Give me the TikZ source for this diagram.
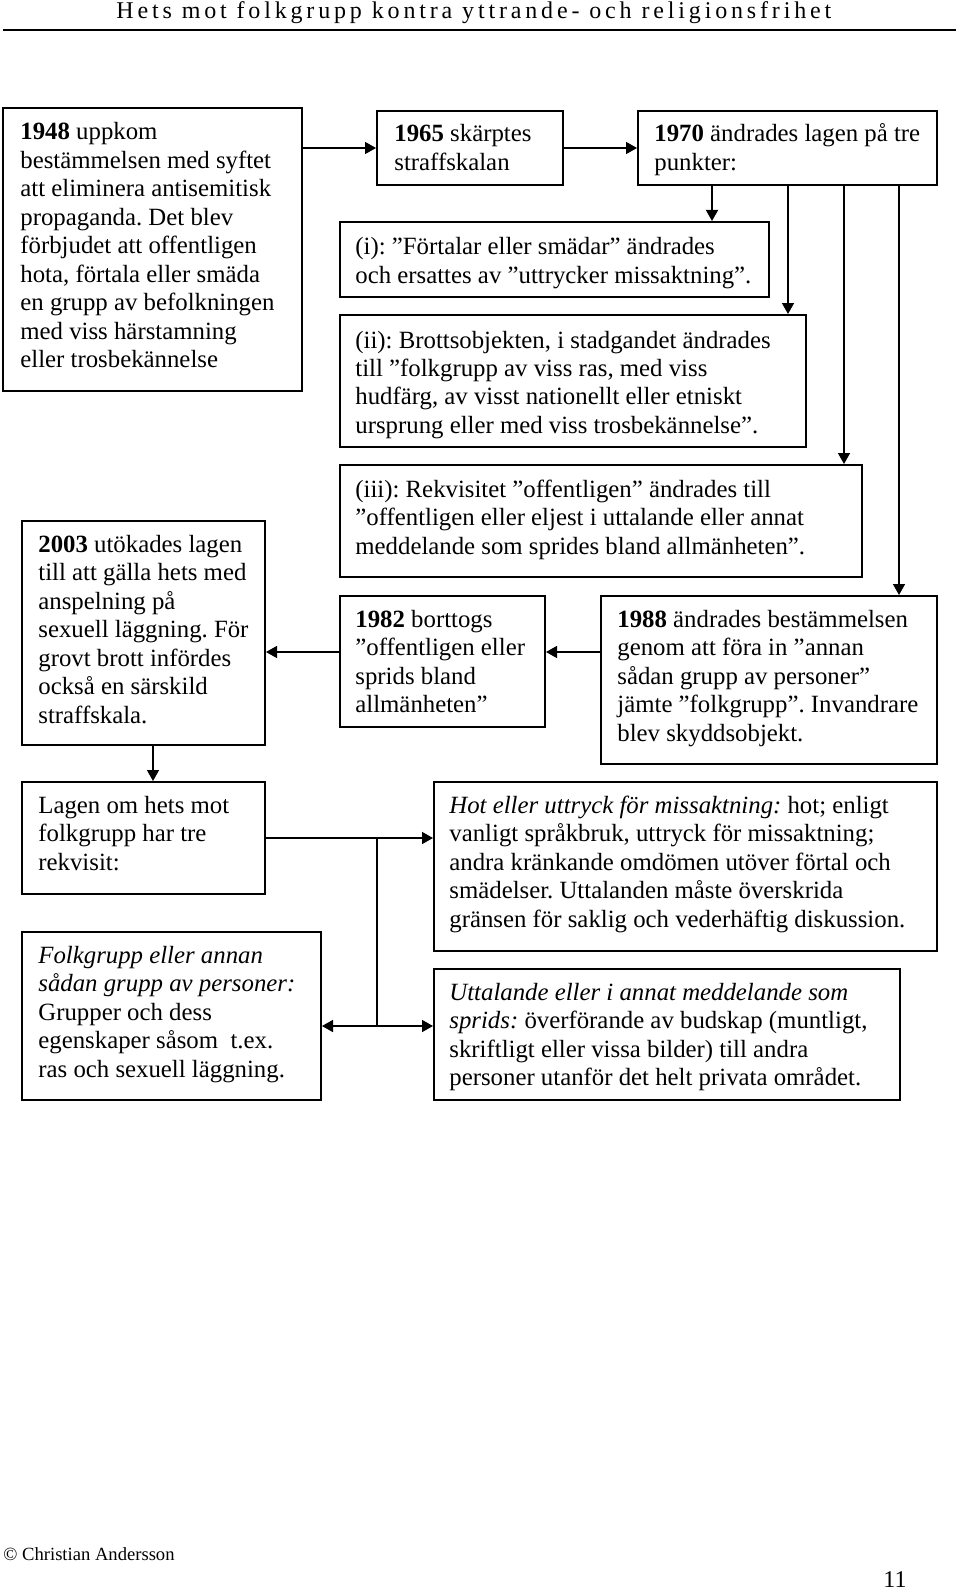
\documentclass[tikz,border=0pt]{standalone}
\usepackage{fontspec}
\setmainfont{Liberation Serif}
\usetikzlibrary{arrows.meta,fit}
\newcommand\mylines[1]{\begin{tabular}[t]{@{}l@{}}#1\end{tabular}}
\tikzset{
  boxx/.style={draw, line width=1pt, inner sep=0pt},
  txt/.style={anchor=base west, inner sep=0pt, font=\fontsize{12.4}{14.25}\selectfont},
  arr/.style={line width=0.75pt, -{Triangle[length=5.5pt,width=6pt]}},
  ln/.style={line width=0.75pt}
}
\frenchspacing
\begin{document}
\frenchspacing
\begin{tikzpicture}[x=0.5pt,y=-0.5pt]
\useasboundingbox (0,0) rectangle (960,1589);
% header
\node[anchor=base west, inner sep=0pt, font=\fontsize{12}{14}\selectfont\addfontfeature{LetterSpace=16}] (title) at (116,19) {Hets mot folkgrupp kontra yttrande- och religionsfrihet};
\coordinate (hl) at (3,30); \coordinate (hr) at (956,30);
\draw[line width=1pt] (hl) -- (hr);
% boxes
\node[boxx, fit={(3,108)(302,391)}] (b1948) {};
\node[boxx, fit={(377,111)(563,185)}] (b1965) {};
\node[boxx, fit={(638,111)(937,185)}] (b1970) {};
\node[boxx, fit={(340,222)(769,297)}] (bi) {};
\node[boxx, fit={(340,315)(806,447)}] (bii) {};
\node[boxx, fit={(340,465)(862,577)}] (biii) {};
\node[boxx, fit={(22,521)(265,745)}] (b2003) {};
\node[boxx, fit={(340,596)(545,727)}] (b1982) {};
\node[boxx, fit={(601,596)(937,764)}] (b1988) {};
\node[boxx, fit={(22,782)(265,894)}] (blag) {};
\node[boxx, fit={(434,782)(937,951)}] (bhot) {};
\node[boxx, fit={(22,932)(321,1100)}] (bfolk) {};
\node[boxx, fit={(434,969)(900,1100)}] (butt) {};
% texts
\node[txt] (t1948) at (20,140) {\mylines{\textbf{1948} uppkom\\bestämmelsen med syftet\\att eliminera antisemitisk\\propaganda. Det blev\\förbjudet att offentligen\\hota, förtala eller smäda\\en grupp av befolkningen\\med viss härstamning\\eller trosbekännelse}};
\node[txt] (t1965) at (394,142) {\mylines{\textbf{1965} skärptes\\straffskalan}};
\node[txt] (t1970) at (654,142) {\mylines{\textbf{1970} ändrades lagen på tre\\punkter:}};
\node[txt] (ti) at (355,255) {\mylines{(i): ”Förtalar eller smädar” ändrades\\och ersattes av ”uttrycker missaktning”.}};
\node[txt] (tii) at (355,348) {\mylines{(ii): Brottsobjekten, i stadgandet ändrades\\till ”folkgrupp av viss ras, med viss\\hudfärg, av visst nationellt eller etniskt\\ursprung eller med viss trosbekännelse”.}};
\node[txt] (tiii) at (355,497) {\mylines{(iii): Rekvisitet ”offentligen” ändrades till\\”offentligen eller eljest i uttalande eller annat\\meddelande som sprides bland allmänheten”.}};
\node[txt] (t2003) at (38,552) {\mylines{\textbf{2003} utökades lagen\\till att gälla hets med\\anspelning på\\sexuell läggning. För\\grovt brott infördes\\också en särskild\\straffskala.}};
\node[txt] (t1982) at (355,627) {\mylines{\textbf{1982} borttogs\\”offentligen eller\\sprids bland\\allmänheten”}};
\node[txt] (t1988) at (617,627) {\mylines{\textbf{1988} ändrades bestämmelsen\\genom att föra in ”annan\\sådan grupp av personer”\\jämte ”folkgrupp”. Invandrare\\blev skyddsobjekt.}};
\node[txt] (tlag) at (38,813) {\mylines{Lagen om hets mot\\folkgrupp har tre\\rekvisit:}};
\node[txt] (thot) at (449,813) {\mylines{\textit{Hot eller uttryck för missaktning:} hot; enligt\\vanligt språkbruk, uttryck för missaktning;\\andra kränkande omdömen utöver förtal och\\smädelser. Uttalanden måste överskrida\\gränsen för saklig och vederhäftig diskussion.}};
\node[txt] (tfolk) at (38,963) {\mylines{\textit{Folkgrupp eller annan}\\\textit{sådan grupp av personer:}\\Grupper och dess\\egenskaper såsom\ \ t.ex.\\ras och sexuell läggning.}};
\node[txt] (tutt) at (449,1000) {\mylines{\textit{Uttalande eller i annat meddelande som}\\\textit{sprids:} överförande av budskap (muntligt,\\skriftligt eller vissa bilder) till andra\\personer utanför det helt privata området.}};
% connectors
\draw[arr] (b1948.east |- b1965.west) -- (b1965.west);
\draw[arr] (b1965.east) -- (b1970.west);
\draw[arr] (b1970.south -| 712,0) -- (bi.north -| 712,0);
\draw[arr] (b1970.south -| 788,0) -- (bii.north -| 788,0);
\draw[arr] (b1970.south -| 844,0) -- (biii.north -| 844,0);
\draw[arr] (b1970.south -| 899,0) -- (b1988.north -| 899,0);
\draw[arr] (b1988.west |- 0,652) -- (b1982.east |- 0,652);
\draw[arr] (b1982.west |- 0,652) -- (b2003.east |- 0,652);
\draw[arr] (b2003.south -| 153,0) -- (blag.north -| 153,0);
\draw[arr] (blag.east) -- (bhot.west |- blag.east);
\coordinate (j1) at (377,839);
\coordinate (j2) at (377,1026);
\draw[ln] (j1) -- (j2);
\draw[arr] (j2) -- (butt.west |- j2);
\draw[arr] (j2) -- (bfolk.east |- j2);
% footer
\node[anchor=base west, inner sep=0pt, font=\fontsize{9.3}{11}\selectfont] (copy) at (3,1560) {© Christian Andersson};
\node[anchor=base west, inner sep=0pt, font=\fontsize{12}{14}\selectfont] (pnum) at (883,1587) {11};
\end{tikzpicture}
\end{document}
